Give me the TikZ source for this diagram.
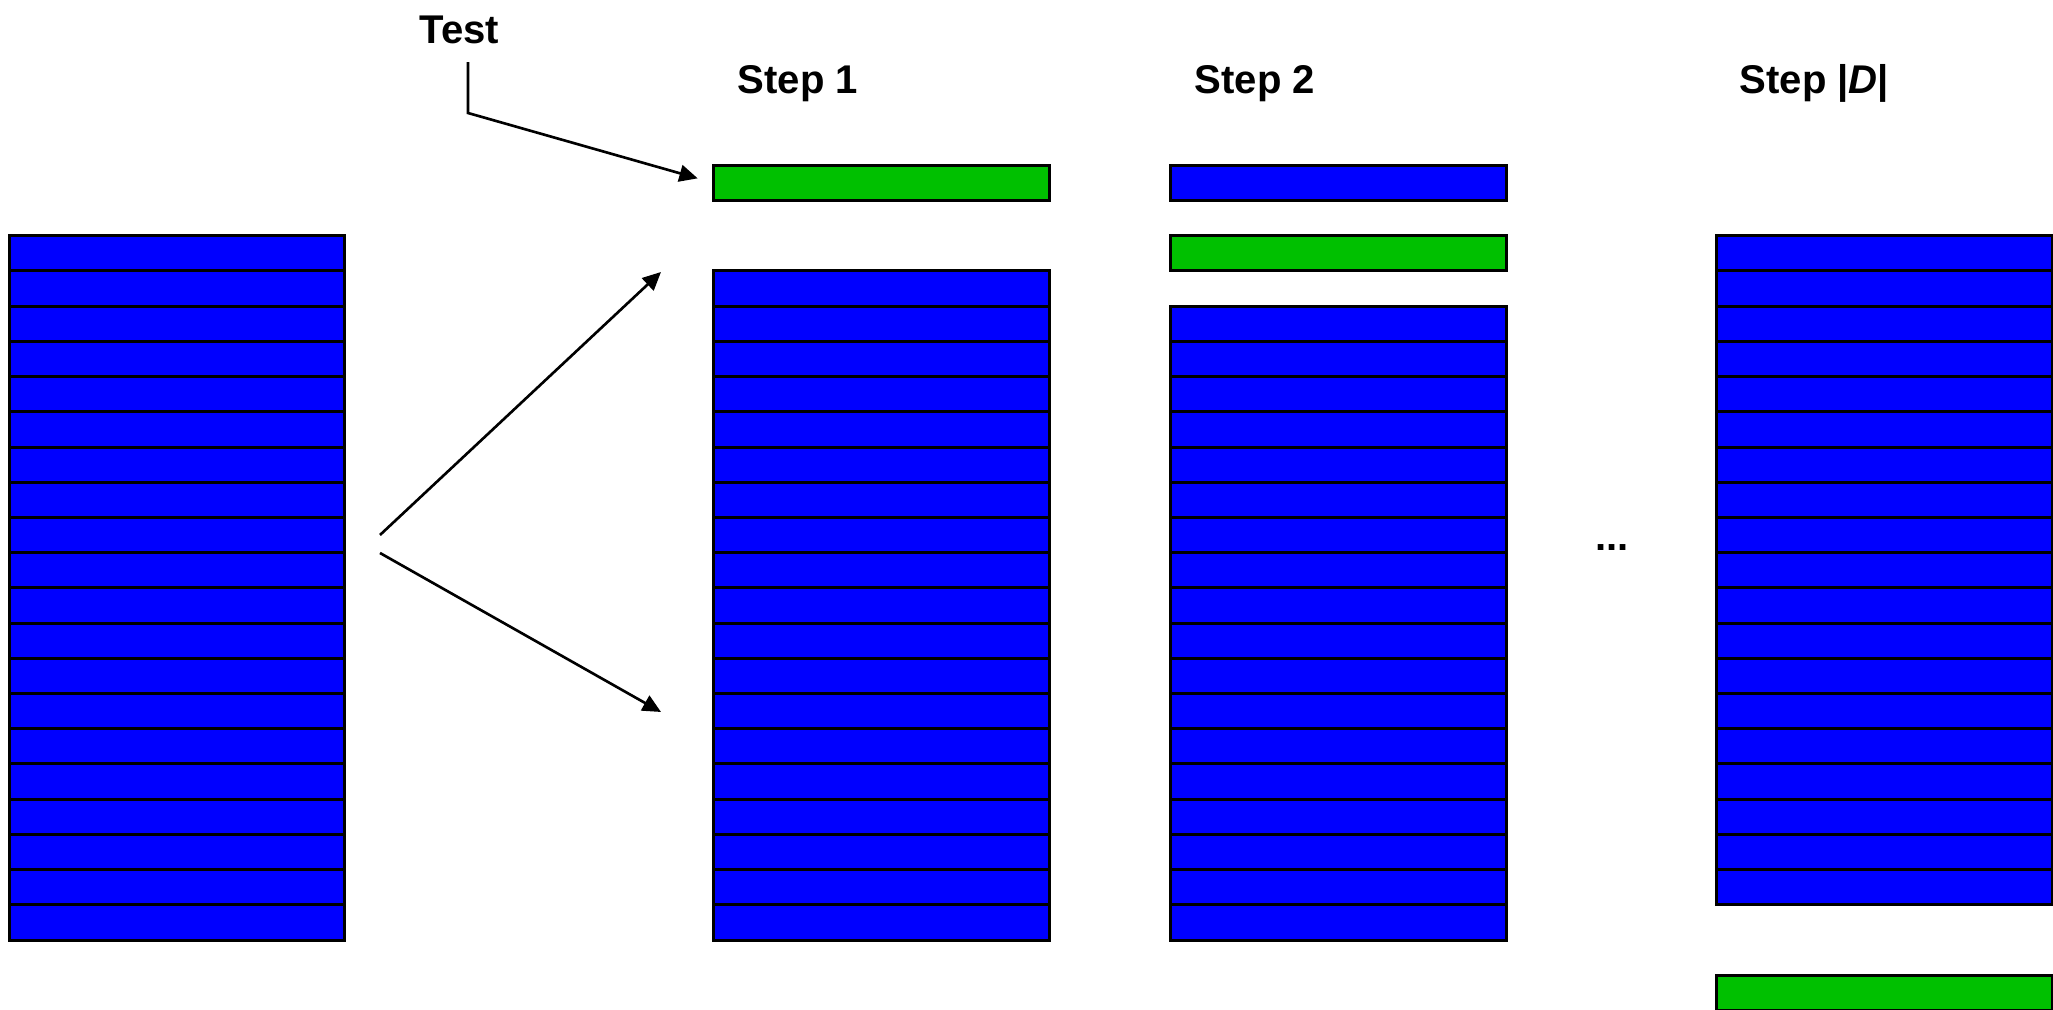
\documentclass[tikz,border=0pt]{standalone}
\usepackage{fontspec}
\setmainfont{Liberation Sans}
\usetikzlibrary{arrows.meta}
\definecolor{bblue}{RGB}{0,0,255}
\definecolor{bgreen}{RGB}{0,192,0}
\begin{document}
\begin{tikzpicture}[x=0.01cm,y=-0.01cm,
  cell/.style={draw=black,line width=0.85pt,minimum width=3.355cm,minimum height=0.3522cm,inner sep=0pt,outer sep=0pt,anchor=north west},
  blu/.style={cell,fill=bblue},
  grn/.style={cell,fill=bgreen},
  lbl/.style={font=\fontsize{11.4}{13}\selectfont\bfseries,inner sep=0pt,anchor=base west},
  arr/.style={line width=0.75pt,-{Triangle[length=5.2pt,width=4.8pt]}}]
\useasboundingbox (0,0) rectangle (2053,1010);
% left column
\foreach \k in {0,...,19} \node[blu] (L\k) at (9.2,{235.7+35.22*\k}) {};
% step 1
\node[grn] (S1g) at (713.6,{235.7-2*35.22}) {};
\foreach \k in {1,...,19} \node[blu] (S1b\k) at (713.6,{235.7+35.22*\k}) {};
% step 2
\node[blu] (S2a) at (1170.8,{235.7-2*35.22}) {};
\node[grn] (S2g) at (1170.8,235.7) {};
\foreach \k in {2,...,19} \node[blu] (S2b\k) at (1170.8,{235.7+35.22*\k}) {};
% step |D|
\foreach \k in {0,...,18} \node[blu] (SDb\k) at (1716.6,{235.7+35.22*\k}) {};
\node[grn] (SDg) at (1716.6,{235.7+35.22*21}) {};
% labels
\node[lbl] (test) at (419,44) {Test};
\node[lbl] (st1) at (737,94) {Step 1};
\node[lbl] (st2) at (1194,94) {Step 2};
\node[lbl] (stD) at (1739,94) {Step |\textit{D}|};
\node[lbl,anchor=base] (dots) at (1612,551) {...};
% connectors
\coordinate (tk) at (468,113);
\path (tk |- test.south) ++(0,17) coordinate (t0);
\draw[arr,shorten >=4.7pt] (t0) -- (tk) -- (S1g.west);
\coordinate (a1) at (380,535);
\coordinate (a2) at (380,553);
\coordinate (e1) at (661,272);
\coordinate (e2) at (661,712);
\draw[arr] (a1) -- (e1);
\draw[arr] (a2) -- (e2);
\end{tikzpicture}
\end{document}
